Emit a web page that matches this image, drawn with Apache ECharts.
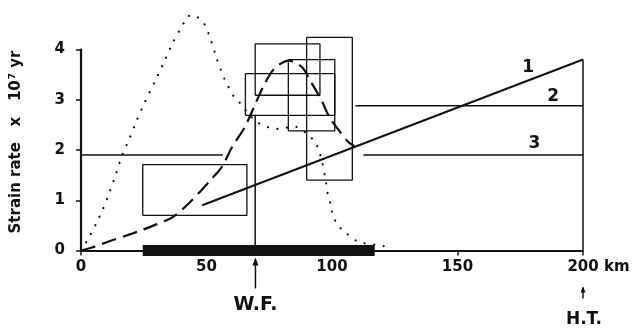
<!DOCTYPE html>
<html>
<head>
<meta charset="utf-8">
<script src="https://cdn.jsdelivr.net/npm/echarts@6/dist/echarts.min.js"></script>
<style>
  html, body { margin: 0; padding: 0; background: #fff; }
  #main { width: 637px; height: 328px; }
</style>
</head>
<body>
<div id="main"></div>
<script>
// x: distance (km), y: strain rate (x 10^7 / yr)
const xTicks = [0, 50, 100, 150, 200];
const yTicks = [0, 1, 2, 3, 4];

// dotted curve
const dottedCurve = [
  [0, 0], [3, 0.24], [5.9, 0.52], [8.3, 0.77], [10.7, 1.07], [13.9, 1.52], [16.4, 1.9],
  [19.3, 2.23], [22.2, 2.59], [25.5, 2.96], [29.2, 3.34], [33, 3.74], [36.7, 4.15],
  [40.4, 4.48], [42.4, 4.65], [44, 4.68], [45.9, 4.66], [48.6, 4.56], [51.4, 4.24],
  [54, 3.83], [57.1, 3.42], [60.7, 3.08], [63.8, 2.91], [67, 2.7], [70.6, 2.54],
  [74.1, 2.46], [77.7, 2.42], [81.3, 2.44], [85.7, 2.46], [90.6, 2.3], [93.5, 2.14],
  [94.9, 1.98], [96.2, 1.73], [97.5, 1.4], [98.5, 1.06], [99.5, 0.92], [100.2, 0.71],
  [102.5, 0.49], [106, 0.33], [110.6, 0.17], [119.3, 0.1], [123.6, 0.06]
];

// dashed curve
const dashedCurve = [
  [0, 0], [5, 0.07], [11, 0.18], [20, 0.33], [25, 0.42], [30, 0.52], [36.4, 0.66],
  [43, 0.94], [51.6, 1.4], [56.2, 1.67], [60.2, 2.06], [65.3, 2.46], [70.1, 2.99],
  [73.3, 3.33], [77.2, 3.63], [82.8, 3.78], [88, 3.65], [91.9, 3.33], [95.8, 2.99],
  [99, 2.65], [102.6, 2.4], [106.5, 2.16], [108.9, 2.08]
];

// straight lines 1, 2, 3
const line1 = [[48.3, 0.9], [200, 3.8]];
const line2 = [[109.3, 2.88], [200, 2.88]];
const line3a = [[0, 1.9], [56.5, 1.9]];
const line3b = [[112.5, 1.9], [200, 1.9]];
const rightEdge = [[200, 0], [200, 3.8]];
const wfLine = [[69.4, 0], [69.4, 2.69]];
const thickBar = [[24.6, 0], [117, 0]];

// boxes: [xmin, xmax, ymin, ymax]
const boxes = [
  [24.6, 66.1, 0.7, 1.71],
  [69.4, 95.2, 3.09, 4.11],
  [65.5, 101.1, 2.69, 3.52],
  [82.6, 101.1, 2.38, 3.8],
  [89.9, 108.1, 1.4, 4.24]
];

const curveNames = ['1', '2', '3'];
const curveNameAt = [[178.2, 3.65], [188.1, 3.07], [180.6, 2.12]];
const wfAt = 69.5;
const htAt = 200;

const FONT = 'DejaVu Sans';
const INK = '#111';

function boxPath(b) {
  return [[b[0], b[2]], [b[1], b[2]], [b[1], b[3]], [b[0], b[3]], [b[0], b[2]]];
}

function plain(data, width, extra) {
  return Object.assign({
    type: 'line',
    data: data,
    symbol: 'none',
    clip: false,
    silent: true,
    lineStyle: { color: INK, width: width }
  }, extra || {});
}

const series = [];
boxes.forEach(b => series.push(plain(boxPath(b), 1.3)));
series.push(plain(line1, 2));
series.push(plain(line2, 1.5));
series.push(plain(line3a, 1.5));
series.push(plain(line3b, 1.5));
series.push(plain(rightEdge, 1.5));
series.push(plain(wfLine, 1.5));
series.push(plain(thickBar, 11, { lineStyle: { color: INK, width: 11, cap: 'butt' } }));
series.push(plain(dottedCurve, 2.2, {
  smooth: 0.2,
  lineStyle: { color: INK, width: 2.2, type: [0.1, 9.5], cap: 'round' }
}));
series.push(plain(dashedCurve, 2, {
  smooth: 0.3,
  lineStyle: { color: INK, width: 2.2, type: [15, 7] }
}));

const chart = echarts.init(document.getElementById('main'));
chart.setOption({
  animation: false,
  backgroundColor: '#fff',
  grid: { left: 78, right: 54, top: 49.5, bottom: 77.5 },
  xAxis: {
    type: 'value',
    min: xTicks[0],
    max: xTicks[xTicks.length - 1],
    interval: 50,
    splitLine: { show: false },
    axisLine: { lineStyle: { color: INK, width: 2.2 } },
    axisTick: { length: 5, lineStyle: { color: INK, width: 1.5 } },
    axisLabel: {
      margin: 9,
      color: INK,
      fontFamily: FONT,
      fontWeight: 'bold',
      fontSize: 15,
      formatter: v => v === 200 ? '{km|200 km}' : String(v),
      rich: { km: { fontFamily: FONT, fontWeight: 'bold', fontSize: 15, color: INK, padding: [0, 0, 0, 31] } }
    }
  },
  yAxis: {
    type: 'value',
    min: yTicks[0],
    max: yTicks[yTicks.length - 1],
    interval: 1,
    splitLine: { show: false },
    axisLine: { lineStyle: { color: INK, width: 2.2 } },
    axisTick: { length: 5, lineStyle: { color: INK, width: 1.5 } },
    axisLabel: { margin: 16, color: INK, fontFamily: FONT, fontWeight: 'bold', fontSize: 15 },
    name: '{t|Strain rate   x   10}{s|7}{t| yr}',
    nameLocation: 'middle',
    nameRotate: 90,
    nameGap: 56,
    nameTextStyle: {
      padding: [0, 0, 0, 16],
      rich: {
        t: { fontFamily: FONT, fontWeight: 'bold', fontSize: 15, color: INK },
        s: { fontFamily: FONT, fontWeight: 'bold', fontSize: 9, color: INK, verticalAlign: 'top', padding: [0, 0, 8, 1] }
      }
    }
  },
  series: series
});

// annotations placed through the axes
const px = p => chart.convertToPixel({ gridIndex: 0 }, p);
const graphic = [];
curveNames.forEach((n, i) => {
  const p = px(curveNameAt[i]);
  graphic.push({
    type: 'text', x: p[0], y: p[1],
    style: { text: n, font: 'bold 17px "DejaVu Sans"', fill: INK, align: 'center', verticalAlign: 'middle' }
  });
});
const wf = px([wfAt, 0]);
graphic.push({ type: 'line', shape: { x1: wf[0], y1: wf[1] + 9, x2: wf[0], y2: wf[1] + 38 }, style: { stroke: INK, lineWidth: 1.5 } });
graphic.push({ type: 'polygon', shape: { points: [[wf[0], wf[1] + 7], [wf[0] - 3, wf[1] + 15], [wf[0] + 3, wf[1] + 15]] }, style: { fill: INK } });
graphic.push({
  type: 'text', x: wf[0], y: wf[1] + 55,
  style: { text: 'W.F.', font: 'bold 19px "DejaVu Sans"', fill: INK, align: 'center', verticalAlign: 'middle' }
});
const ht = px([htAt, 0]);
graphic.push({ type: 'line', shape: { x1: ht[0], y1: ht[1] + 37, x2: ht[0], y2: ht[1] + 48 }, style: { stroke: INK, lineWidth: 1.5 } });
graphic.push({ type: 'polygon', shape: { points: [[ht[0], ht[1] + 36], [ht[0] - 2.5, ht[1] + 42], [ht[0] + 2.5, ht[1] + 42]] }, style: { fill: INK } });
graphic.push({
  type: 'text', x: ht[0] + 1, y: ht[1] + 69,
  style: { text: 'H.T.', font: 'bold 17px "DejaVu Sans"', fill: INK, align: 'center', verticalAlign: 'middle' }
});
chart.setOption({ graphic: graphic });
</script>
</body>
</html>
